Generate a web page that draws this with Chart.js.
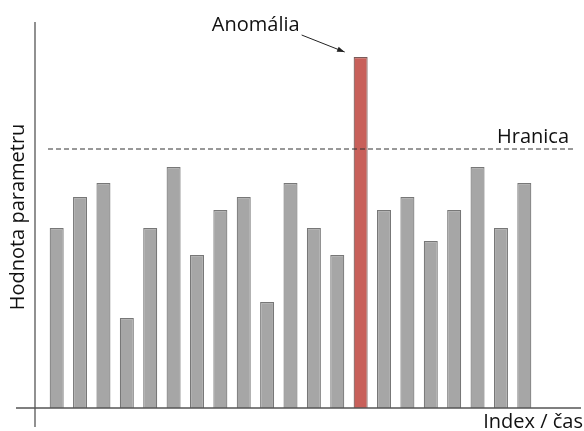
<!DOCTYPE html>
<html>
<head>
<meta charset="utf-8">
<script src="https://cdn.jsdelivr.net/npm/chart.js@4"></script>
<style>
  html, body { margin: 0; padding: 0; background: #fff; }
  #wrap { width: 584px; height: 431px; }
</style>
</head>
<body>
<div id="wrap"><canvas id="myChart"></canvas></div>
<script>
const labels = ['1','2','3','4','5','6','7','8','9','10','11','12','13','14','15','16','17','18','19','20','21'];
const values = [18, 21.1, 22.5, 9, 18, 24.1, 15.3, 19.8, 21.1, 10.6, 22.5, 18, 15.3, 35.1, 19.8, 21.1, 16.7, 19.8, 24.1, 18, 22.5];
const anomalyIndex = 13;
const threshold = 25.9;

const fillColors = values.map((v, i) => i === anomalyIndex ? '#c8605a' : '#a6a6a6');
const borderColors = values.map((v, i) => i === anomalyIndex ? '#7a5a58' : '#777777');

const FONT = '"Open Sans", Lato, sans-serif';

// axis lines, threshold line and the annotations
const decor = {
  id: 'decor',
  afterDraw(chart) {
    const ctx = chart.ctx;
    const a = chart.chartArea;
    const x = chart.scales.x, y = chart.scales.y;
    const base = y.getPixelForValue(0);
    ctx.save();
    ctx.strokeStyle = '#555';
    ctx.lineWidth = 1.3;
    // y axis
    ctx.beginPath();
    ctx.moveTo(a.left - 10, y.top);
    ctx.lineTo(a.left - 10, base + 19);
    ctx.stroke();
    // x axis
    ctx.beginPath();
    ctx.moveTo(a.left - 29, base);
    ctx.lineTo(a.right + 45, base);
    ctx.stroke();

    // threshold
    const ty = y.getPixelForValue(threshold);
    ctx.strokeStyle = '#333';
    ctx.lineWidth = 1;
    ctx.setLineDash([5, 3]);
    ctx.beginPath();
    ctx.moveTo(a.left + 3, ty);
    ctx.lineTo(a.right + 38, ty);
    ctx.stroke();
    ctx.setLineDash([]);

    ctx.fillStyle = '#111';
    ctx.font = '20px ' + FONT;
    ctx.textBaseline = 'middle';
    ctx.textAlign = 'right';
    ctx.fillText('Hranica', a.right + 33, ty - 12);

    // anomaly label + arrow
    const ax = x.getPixelForValue(anomalyIndex);
    const ay = y.getPixelForValue(values[anomalyIndex]);
    ctx.textAlign = 'right';
    ctx.fillText('Anomália', ax - 61, ay - 32);
    const x1 = ax - 59, y1 = ay - 22, x2 = ax - 16, y2 = ay - 5;
    ctx.strokeStyle = '#222';
    ctx.lineWidth = 1;
    ctx.beginPath();
    ctx.moveTo(x1, y1);
    ctx.lineTo(x2, y2);
    ctx.stroke();
    const ang = Math.atan2(y2 - y1, x2 - x1);
    ctx.fillStyle = '#222';
    ctx.beginPath();
    ctx.moveTo(x2, y2);
    ctx.lineTo(x2 - 8 * Math.cos(ang - 0.35), y2 - 8 * Math.sin(ang - 0.35));
    ctx.lineTo(x2 - 8 * Math.cos(ang + 0.35), y2 - 8 * Math.sin(ang + 0.35));
    ctx.closePath();
    ctx.fill();

    // axis titles
    ctx.fillStyle = '#111';
    ctx.textAlign = 'right';
    ctx.fillText('Index / čas', 583, base + 14);
    ctx.save();
    ctx.translate(18, (y.top + base) / 2 + 2);
    ctx.rotate(-Math.PI / 2);
    ctx.textAlign = 'center';
    ctx.fillText('Hodnota parametru', 0, 0);
    ctx.restore();
    ctx.restore();
  }
};

const data = {
  labels: labels,
  datasets: [{
    data: values,
    backgroundColor: fillColors,
    borderColor: borderColors,
    borderWidth: 1.2,
    categoryPercentage: 1,
    barPercentage: 0.6
  }]
};

const config = {
  type: 'bar',
  data: data,
  plugins: [decor],
  options: {
    maintainAspectRatio: false,
    responsive: true,
    animation: false,
    layout: { padding: { left: 45, right: 48, top: 22, bottom: 23 } },
    scales: {
      x: { display: false, offset: true },
      y: { display: false, min: 0, max: 38.6 }
    },
    plugins: {
      legend: { display: false },
      tooltip: { enabled: false },
      title: { display: false }
    }
  }
};

const myChart = new Chart(document.getElementById('myChart'), config);
</script>
</body>
</html>
